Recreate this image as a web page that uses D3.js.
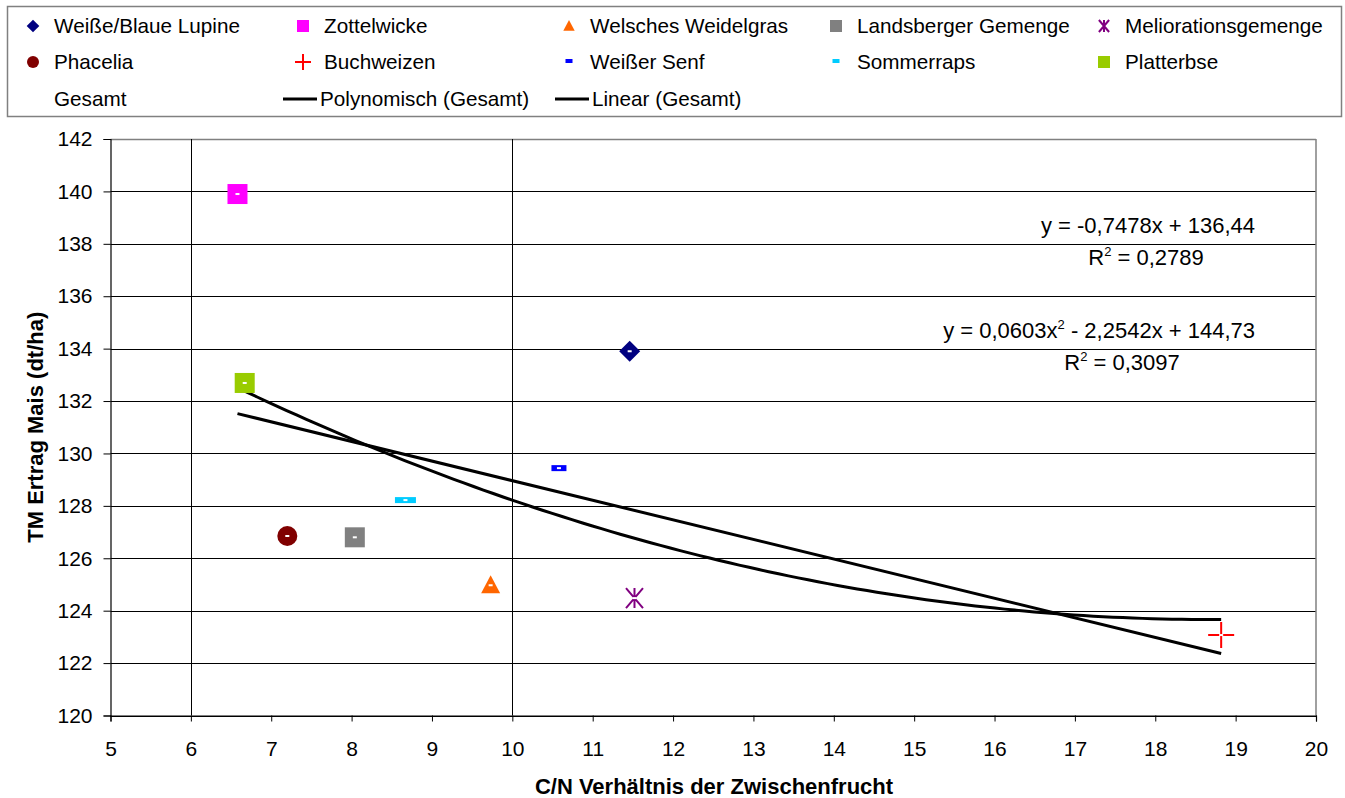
<!DOCTYPE html>
<html><head><meta charset="utf-8">
<script src="https://cdn.jsdelivr.net/npm/d3@7"></script>
<style>body{margin:0;background:#fff;} text{font-family:"Liberation Sans",Arial,sans-serif;}</style>
</head><body>
<svg id="c" width="1345" height="798"></svg>
<script>
const seriesNames = ["Weiße/Blaue Lupine","Zottelwicke","Welsches Weidelgras","Landsberger Gemenge","Meliorationsgemenge","Phacelia","Buchweizen","Weißer Senf","Sommerraps","Platterbse"];
const xValues = [11.46, 6.58, 9.73, 8.04, 11.52, 7.20, 18.82, 10.58, 8.67, 6.67];
const yValues = [133.9, 139.9, 124.97, 126.8, 124.48, 126.85, 123.07, 129.44, 128.22, 132.69];
const seriesColors = ["#000080","#FF00FF","#FF6600","#808080","#800080","#800000","#FF0000","#0000FF","#00CCFF","#99CC00"];
const seriesShapes = ["diamond","square","triangle","square","star","circle","plus","dash","dash","square"];
const xTicks = [5,6,7,8,9,10,11,12,13,14,15,16,17,18,19,20];
const yTicks = [120,122,124,126,128,130,132,134,136,138,140,142];
const refLinesX = [6,10];
const linCoef = [136.44, -0.7478];
const polyCoef = [144.73, -2.2542, 0.0603];
const linLabel = ["y = -0,7478x + 136,44", "0,2789"];
const polyLabel = ["0,0603", " - 2,2542x + 144,73", "0,3097"];

const FS = 20.7, TFS = 21, EFS = 22, AFS = 22;
const svg = d3.select("#c");
const L=110.5, R=1316, T=139, B=715.5;
const x = d3.scaleLinear().domain([5,20]).range([L,R]);
const y = d3.scaleLinear().domain([120,142]).range([B,T]);

// legend box
svg.append("rect").attr("x",7.5).attr("y",6.5).attr("width",1334).attr("height",110)
  .attr("fill","#fff").attr("stroke","#808080").attr("stroke-width",1.5);

// gridlines
svg.append("g").selectAll("line").data(yTicks).join("line")
  .attr("x1",L).attr("x2",R).attr("y1",d=>Math.round(y(d))+0.5).attr("y2",d=>Math.round(y(d))+0.5)
  .attr("stroke","#000").attr("stroke-width",1);
svg.append("line").attr("x1",R).attr("x2",R).attr("y1",T).attr("y2",B).attr("stroke","#808080").attr("stroke-width",1.5);
svg.append("line").attr("x1",L).attr("x2",R).attr("y1",T+0.5).attr("y2",T+0.5).attr("stroke","#808080").attr("stroke-width",1.5);
svg.append("g").selectAll("line").data(refLinesX).join("line")
  .attr("x1",d=>Math.round(x(d))+0.5).attr("x2",d=>Math.round(x(d))+0.5).attr("y1",T).attr("y2",B)
  .attr("stroke","#000").attr("stroke-width",1);

// axes
const xAxis = svg.append("g").attr("transform",`translate(0,${B})`)
  .call(d3.axisBottom(x).tickValues(xTicks).tickSize(6).tickPadding(20).tickFormat(d3.format("d")));
const yAxis = svg.append("g").attr("transform",`translate(${L},0)`)
  .call(d3.axisLeft(y).tickValues(yTicks).tickSize(7).tickPadding(11).tickFormat(d3.format("d")));
[xAxis,yAxis].forEach(g=>{
  g.select(".domain").attr("stroke","#000").attr("stroke-width",1.2);
  g.selectAll(".tick line").attr("stroke","#000");
  g.selectAll("text").attr("font-size",TFS).attr("fill","#000").attr("font-family","Liberation Sans, Arial, sans-serif");
});

// axis titles
svg.append("text").attr("x",714).attr("y",794).attr("text-anchor","middle")
  .attr("font-size",AFS).attr("font-weight","bold").text("C/N Verhältnis der Zwischenfrucht");
svg.append("text").attr("transform",`translate(43,${(T+B)/2}) rotate(-90)`).attr("text-anchor","middle")
  .attr("font-size",AFS).attr("font-weight","bold").text("TM Ertrag Mais (dt/ha)");

// trendlines
const xmin = d3.min(xValues), xmax = d3.max(xValues);
const samples = d3.range(0,101).map(i=>xmin+(xmax-xmin)*i/100);
const polyF = v=>polyCoef[0]+polyCoef[1]*v+polyCoef[2]*v*v;
const linF = v=>linCoef[0]+linCoef[1]*v;
const line = d3.line().x(d=>x(d[0])).y(d=>y(d[1]));
svg.append("path").attr("d",line(samples.map(v=>[v,polyF(v)]))).attr("fill","none").attr("stroke","#000").attr("stroke-width",3);
svg.append("path").attr("d",line([[xmin,linF(xmin)],[xmax,linF(xmax)]])).attr("fill","none").attr("stroke","#000").attr("stroke-width",3);

// marker drawer
function marker(g, shape, color, big){
  const s = big?1:0.6;
  if(shape==="square") g.append("rect").attr("x",-10*s).attr("y",-10*s).attr("width",20*s).attr("height",20*s).attr("fill",color);
  else if(shape==="diamond") g.append("path").attr("fill",color)
    .attr("d",`M0,${-10.5*s}L${10.5*s},0L0,${10.5*s}L${-10.5*s},0Z`);
  else if(shape==="triangle") g.append("path").attr("d",`M0,${-10*s}L${9.5*s},${8*s}L${-9.5*s},${8*s}Z`).attr("fill",color);
  else if(shape==="circle") g.append("circle").attr("r",10*s).attr("fill",color);
  else if(shape==="star"){
    const r=10*s;
    g.append("path").attr("d",`M${-r*0.85},${-r}L${r*0.85},${r}M${r*0.85},${-r}L${-r*0.85},${r}M0,${-r}L0,${r}`)
      .attr("stroke",color).attr("stroke-width",2).attr("fill","none");
  } else if(shape==="plus"){
    const r=big?13:8;
    g.append("path").attr("d",`M${-r},0L${r},0M0,${-r}L0,${r}`).attr("stroke",color).attr("stroke-width",2);
  } else if(shape==="dash"){
    const w = big?(color==="#0000FF"?15:21):7;
    g.append("rect").attr("x",-w/2).attr("y",-3).attr("width",w).attr("height",big?6:4).attr("fill",color);
  }
}

// points
xValues.forEach((xv,i)=>{
  const g = svg.append("g").attr("transform",`translate(${x(xv)},${y(yValues[i])})`);
  marker(g, seriesShapes[i], seriesColors[i], true);
  // Gesamt markers (white dash)
  g.append("rect").attr("x",-2).attr("y",-1).attr("width",4).attr("height",2).attr("fill","#fff");
});

// equations
const eq = svg.append("g").attr("font-size",EFS).attr("fill","#000");
eq.append("text").attr("x",1255).attr("y",233).attr("text-anchor","end").text(linLabel[0]);
const r1 = eq.append("text").attr("x",1146).attr("y",265).attr("text-anchor","middle");
r1.append("tspan").text("R");
r1.append("tspan").attr("font-size",13).attr("dy",-9).text("2");
r1.append("tspan").attr("dy",9).text(" = "+linLabel[1]);
const e2 = eq.append("text").attr("x",1255).attr("y",338).attr("text-anchor","end");
e2.append("tspan").text("y = "+polyLabel[0]+"x");
e2.append("tspan").attr("font-size",13).attr("dy",-9).text("2");
e2.append("tspan").attr("dy",9).text(polyLabel[1]);
const r2 = eq.append("text").attr("x",1122).attr("y",370).attr("text-anchor","middle");
r2.append("tspan").text("R");
r2.append("tspan").attr("font-size",13).attr("dy",-9).text("2");
r2.append("tspan").attr("dy",9).text(" = "+polyLabel[2]);

// legend
const colX = [33, 303, 569, 836, 1104];
const rowY = [26, 62, 99];
seriesNames.forEach((n,i)=>{
  const c = i%5, r = Math.floor(i/5);
  const g = svg.append("g").attr("transform",`translate(${colX[c]},${rowY[r]})`);
  marker(g, seriesShapes[i], seriesColors[i], false);
  svg.append("text").attr("x",colX[c]+21).attr("y",rowY[r]+7).attr("font-size",FS).text(n);
});
svg.append("text").attr("x",54).attr("y",rowY[2]+7).attr("font-size",FS).text("Gesamt");
[["Polynomisch (Gesamt)",283],["Linear (Gesamt)",555]].forEach(([t,lx])=>{
  svg.append("line").attr("x1",lx).attr("x2",lx+34).attr("y1",rowY[2]).attr("y2",rowY[2]).attr("stroke","#000").attr("stroke-width",3);
  svg.append("text").attr("x",lx+37).attr("y",rowY[2]+7).attr("font-size",FS).text(t);
});
</script>
</body></html>
